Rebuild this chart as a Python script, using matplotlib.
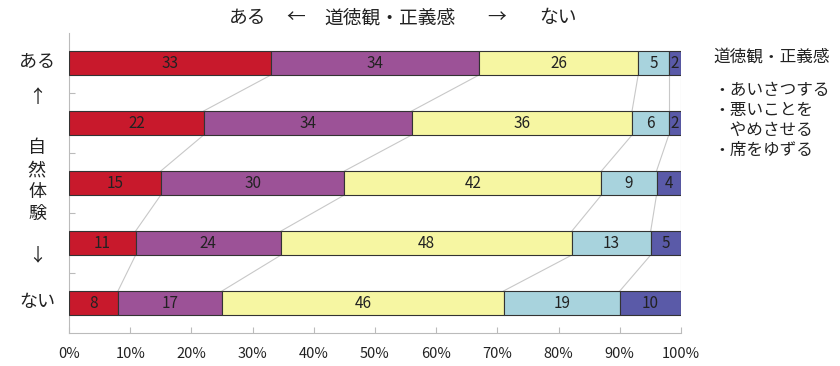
import matplotlib

matplotlib.use("Agg")
import matplotlib.pyplot as plt
import numpy as np

plt.rcParams["font.family"] = ["Noto Sans CJK JP", "DejaVu Sans"]

rows = ["ある", "", "", "", "ない"]
values = [
    [33, 34, 26, 5, 2],
    [22, 34, 36, 6, 2],
    [15, 30, 42, 9, 4],
    [11, 24, 48, 13, 5],
    [8, 17, 46, 19, 10],
]
colors = ["#c8192c", "#9c5297", "#f6f6a2", "#a8d3dd", "#5a5aa8"]
xticks = [0, 10, 20, 30, 40, 50, 60, 70, 80, 90, 100]
legend_title = "道徳観・正義感"
legend_lines = ["・あいさつする", "・悪いことを", "　やめさせる", "・席をゆずる"]

fig = plt.figure(figsize=(8.4, 3.66), dpi=100)
ax = fig.add_axes([69 / 840, 1 - 333 / 366, 612 / 840, 300 / 366])

vals = np.array(values, dtype=float)
# rows are drawn as shares of their own total (one row sums to 101)
shares = vals / vals.sum(axis=1, keepdims=True) * 100
height = 0.4
for i, row in enumerate(shares):
    left = 0.0
    for j, w in enumerate(row):
        ax.barh(i, w, left=left, height=height, color=colors[j],
                edgecolor="#333333", linewidth=0.8, zorder=3)
        ax.text(left + w / 2, i, f"{int(vals[i, j])}", ha="center", va="center",
                fontsize=11, color="#222222", zorder=4)
        left += w

# connector lines between bars
cum = np.cumsum(shares, axis=1)
for i in range(len(shares) - 1):
    for j in range(shares.shape[1]):
        ax.plot([cum[i, j], cum[i + 1, j]], [i + height / 2, i + 1 - height / 2],
                color="#c8c8c8", linewidth=0.8, zorder=2)

ax.set_xlim(0, 100)
ax.set_ylim(4.5, -0.5)
ax.set_xticks(xticks)
ax.set_xticklabels([f"{t}%" for t in xticks], fontsize=10.5, color="#222222")
ax.set_yticks([0.5, 1.5, 2.5, 3.5])
ax.set_yticklabels([])
ax.tick_params(axis="both", direction="in", length=4, color="#bbbbbb")
ax.tick_params(axis="x", pad=10)
for s in ["top", "right"]:
    ax.spines[s].set_visible(False)
for s in ["left", "bottom"]:
    ax.spines[s].set_color("#bbbbbb")
    ax.spines[s].set_linewidth(0.8)

# title
for x, t in [(248, "ある"), (296, "←"), (390, "道徳観・正義感"), (497, "→"), (558, "ない")]:
    fig.text(x / 840, 1 - 18 / 366, t, ha="center", va="center", fontsize=13.5, color="#222222")

# left side labels
side = [(62, "ある"), (98, "↑"), (148, "自"), (170, "然"), (192, "体"), (214, "験"),
        (255, "↓"), (302, "ない")]
for y, t in side:
    fig.text(37 / 840, 1 - y / 366, t, ha="center", va="center", fontsize=13, color="#222222")

# right legend text
fig.text(713 / 840, 1 - 57 / 366, legend_title, ha="left", va="center", fontsize=12, color="#222222")
for k, t in enumerate(legend_lines):
    fig.text(713 / 840, 1 - (90 + 20 * k) / 366, t, ha="left", va="center",
             fontsize=12, color="#222222")

fig.savefig("out.png", dpi=100, facecolor="white")
